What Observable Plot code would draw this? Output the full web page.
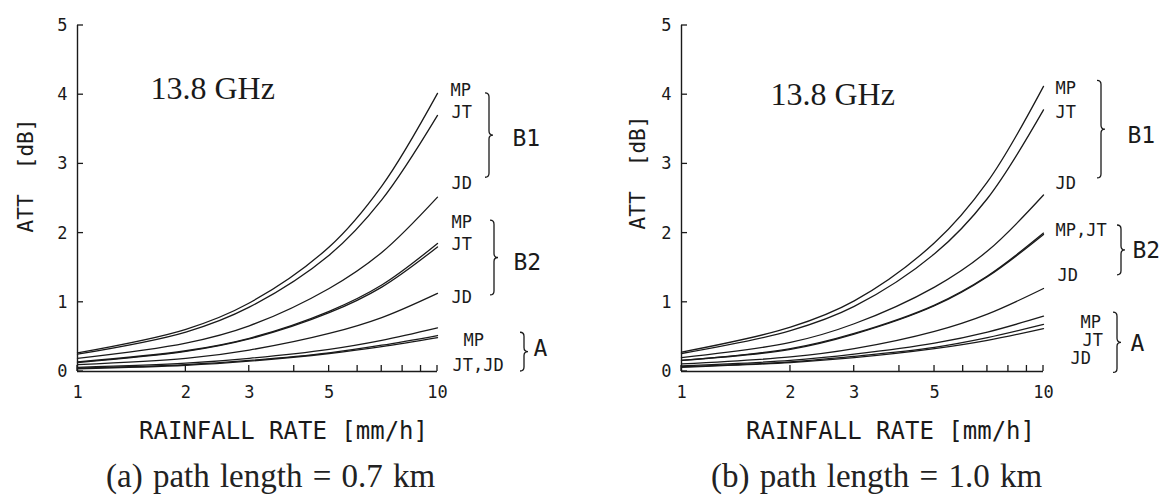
<!DOCTYPE html>
<html>
<head>
<meta charset="utf-8">
<script src="https://cdn.jsdelivr.net/npm/d3@7"></script>
<script src="https://cdn.jsdelivr.net/npm/@observablehq/plot@0.6"></script>
<style>
  body { margin: 0; background: #fff; }
  #wrap { position: relative; width: 1168px; height: 500px; overflow: hidden; }
  .panel { position: absolute; top: 0; }
  .cap { position: absolute; top: 456px; font-family: "Liberation Serif", serif; font-size: 33px; line-height: 40px; word-spacing: 2px; color: #222; white-space: nowrap; }
</style>
</head>
<body>
<div id="wrap">
  <div id="pa" class="panel" style="left:0"></div>
  <div id="pb" class="panel" style="left:584px"></div>
  <div class="cap" id="capa" style="left:106px"></div>
  <div class="cap" id="capb" style="left:711px"></div>
</div>
<script>
// ---- data ----
const rain = [1, 2, 3, 5, 7, 10];              // rainfall rate [mm/h]
const xTickMarks = [1, 2, 3, 4, 5, 6, 7, 8, 9, 10];
const xTickLabels = [1, 2, 3, 5, 10];
const yTicks = [0, 1, 2, 3, 4, 5];
const freqLabel = "13.8 GHz";
const xTitle = "RAINFALL RATE [mm/h]";
const yTitle = "ATT\u00a0\u00a0[dB]";
const captionA = "(a) path length = 0.7 km";
const captionB = "(b) path length = 1.0 km";

// panel (a): path length 0.7 km
const a_B1_MP = [0.27, 0.61, 0.99, 1.80, 2.68, 4.02];
const a_B1_JT = [0.25, 0.57, 0.93, 1.68, 2.48, 3.70];
const a_B1_JD = [0.19, 0.41, 0.66, 1.20, 1.72, 2.52];
const a_B2_MP = [0.14, 0.30, 0.48, 0.87, 1.25, 1.85];
const a_B2_JT = [0.13, 0.29, 0.47, 0.85, 1.22, 1.80];
const a_B2_JD = [0.10, 0.19, 0.31, 0.55, 0.78, 1.13];
const a_A_MP  = [0.06, 0.12, 0.19, 0.32, 0.45, 0.63];
const a_A_JT  = [0.05, 0.10, 0.16, 0.27, 0.38, 0.52];
const a_A_JD  = [0.04, 0.09, 0.15, 0.26, 0.36, 0.49];

// panel (b): path length 1.0 km
const b_B1_MP = [0.28, 0.64, 1.02, 1.86, 2.74, 4.12];
const b_B1_JT = [0.26, 0.59, 0.94, 1.70, 2.50, 3.78];
const b_B1_JD = [0.20, 0.42, 0.69, 1.22, 1.74, 2.55];
const b_B2_MP = [0.16, 0.33, 0.55, 0.96, 1.38, 2.00];
const b_B2_JT = [0.16, 0.32, 0.54, 0.95, 1.37, 1.98];
const b_B2_JD = [0.11, 0.21, 0.33, 0.58, 0.83, 1.20];
const b_A_MP  = [0.08, 0.16, 0.25, 0.41, 0.57, 0.80];
const b_A_JT  = [0.07, 0.14, 0.22, 0.35, 0.49, 0.68];
const b_A_JD  = [0.06, 0.13, 0.20, 0.33, 0.45, 0.62];

// curve-end labels
const a_labels = ["MP", "JT", "JD", "MP", "JT", "JD", "MP", "JT,JD"];
const a_labelY = [4.06, 3.74, 2.72, 2.15, 1.84, 1.07, 0.45, 0.09];
const b_labels = ["MP", "JT", "JD", "MP,JT", "JD", "MP", "JT", "JD"];
const b_labelY = [4.09, 3.74, 2.72, 2.04, 1.39, 0.71, 0.45, 0.19];

// groups (braces)
const a_groups = ["B1", "B2", "A"];
const a_groupTop = [4.02, 2.18, 0.56];
const a_groupBottom = [2.80, 1.10, 0.00];
const a_groupLabelY = [3.37, 1.58, 0.33];
const b_groups = ["B1", "B2", "A"];
const b_groupTop = [4.20, 2.11, 0.85];
const b_groupBottom = [2.79, 1.39, -0.02];
const b_groupLabelY = [3.41, 1.75, 0.40];

// ---- layout (pixels) ----
const layoutA = {
  marginLeft: 77, marginRight: 147,
  labelDx: [13, 14, 14, 14, 14, 14, 26, 15],
  braceDx: [48, 53, 83], groupDx: [75, 76, 96],
  freqDx: 73, freqDy: 63, yTitleDx: -51, yTitleDy: -23, xTitleDx: 26
};
const layoutB = {
  marginLeft: 97, marginRight: 125,
  labelDx: [12, 12, 12, 12, 14, 37, 39, 27],
  braceDx: [54, 74, 70], groupDx: [84, 89, 87],
  freqDx: 89, freqDy: 69, yTitleDx: -43, yTitleDy: -26, xTitleDx: 28
};

const mono = "DejaVu Sans Mono, monospace";
const ink = "#1a1a1a";

function tidy(series) {
  const out = [];
  for (const [name, ys] of Object.entries(series)) {
    ys.forEach((v, i) => out.push({name, x: rain[i], y: v}));
  }
  return out;
}

function bracePath(x, yt, yb, w) {
  const m = (yt + yb) / 2;
  return `M${x},${yt} Q${x + w},${yt} ${x + w},${yt + w}` +
         ` L${x + w},${m - w} Q${x + w},${m} ${x + 2 * w},${m}` +
         ` Q${x + w},${m} ${x + w},${m + w}` +
         ` L${x + w},${yb - w} Q${x + w},${yb} ${x},${yb}`;
}

function panel(series, labels, labelY, groups, gTop, gBottom, gLabelY, L) {
  const data = tidy(series);
  const labelData = labels.map((t, i) => ({t, y: labelY[i], dx: L.labelDx[i]}));
  const groupData = groups.map((g, i) => ({g, y: gLabelY[i], top: gTop[i], bottom: gBottom[i], bdx: L.braceDx[i], dx: L.groupDx[i]}));
  return Plot.plot({
    width: 584,
    height: 455,
    marginLeft: L.marginLeft,
    marginRight: L.marginRight,
    marginTop: 25,
    marginBottom: 84,
    style: {background: "transparent", fontFamily: mono, fontSize: "17px", color: ink, overflow: "visible"},
    x: {type: "log", domain: [1, 10]},
    y: {domain: [0, 5]},
    marks: [
      Plot.ruleX([1], {stroke: ink, strokeWidth: 1.4}),
      Plot.ruleY([0], {stroke: ink, strokeWidth: 1.4}),
      Plot.axisX({ticks: xTickLabels, tickSize: 0, tickPadding: 14, tickFormat: d => String(d), label: null, fill: ink, fontSize: 17}),
      Plot.axisY({ticks: yTicks, tickSize: 0, tickPadding: 10, tickFormat: d => String(d), label: null, fill: ink, fontSize: 17}),
      // inward tick marks, placed through the plot's scales
      (index, scales) => {
        const g = d3.create("svg:g").attr("stroke", ink).attr("stroke-width", 1.3);
        const y0 = scales.y(0), x0 = scales.x(1);
        for (const t of xTickMarks) {
          const x = scales.x(t);
          g.append("line").attr("x1", x).attr("x2", x).attr("y1", y0).attr("y2", y0 - 6);
        }
        for (const t of yTicks) {
          const y = scales.y(t);
          g.append("line").attr("x1", x0).attr("x2", x0 + 6).attr("y1", y).attr("y2", y);
        }
        return g.node();
      },
      Plot.line(data, {x: "x", y: "y", z: "name", stroke: ink, strokeWidth: 1.3, curve: "catmull-rom"}),
      Plot.text([freqLabel], {frameAnchor: "top-left", dx: L.freqDx, dy: L.freqDy, textAnchor: "start", lineAnchor: "middle", fontFamily: "Liberation Serif, serif", fontSize: 32, fill: ink}),
      Plot.text([yTitle], {frameAnchor: "left", dx: L.yTitleDx, dy: L.yTitleDy, rotate: -90, textAnchor: "middle", lineAnchor: "middle", fontFamily: mono, fontSize: 21, fill: ink}),
      Plot.text([xTitle], {frameAnchor: "bottom", dx: L.xTitleDx, dy: 60, textAnchor: "middle", lineAnchor: "middle", fontFamily: mono, fontSize: 24, fill: ink}),
      ...labelData.map(d => Plot.text([d], {y: "y", text: "t", frameAnchor: "right", dx: d.dx, textAnchor: "start", lineAnchor: "middle", fontFamily: mono, fontSize: 17, fill: ink})),
      ...groupData.map(d => Plot.text([d], {y: "y", text: "g", frameAnchor: "right", dx: d.dx, textAnchor: "start", lineAnchor: "middle", fontFamily: mono, fontSize: 23, fill: ink})),
      (index, scales, values, dim) => {
        const g = d3.create("svg:g").attr("fill", "none").attr("stroke", ink).attr("stroke-width", 1.3);
        const xr = dim.width - dim.marginRight;
        for (const d of groupData) {
          g.append("path").attr("d", bracePath(xr + d.bdx, scales.y(d.top), scales.y(d.bottom), 4));
        }
        return g.node();
      }
    ]
  });
}

document.getElementById("pa").append(panel(
  {B1_MP: a_B1_MP, B1_JT: a_B1_JT, B1_JD: a_B1_JD, B2_MP: a_B2_MP, B2_JT: a_B2_JT, B2_JD: a_B2_JD, A_MP: a_A_MP, A_JT: a_A_JT, A_JD: a_A_JD},
  a_labels, a_labelY, a_groups, a_groupTop, a_groupBottom, a_groupLabelY, layoutA));
document.getElementById("pb").append(panel(
  {B1_MP: b_B1_MP, B1_JT: b_B1_JT, B1_JD: b_B1_JD, B2_MP: b_B2_MP, B2_JT: b_B2_JT, B2_JD: b_B2_JD, A_MP: b_A_MP, A_JT: b_A_JT, A_JD: b_A_JD},
  b_labels, b_labelY, b_groups, b_groupTop, b_groupBottom, b_groupLabelY, layoutB));
document.getElementById("capa").textContent = captionA;
document.getElementById("capb").textContent = captionB;
</script>
</body>
</html>
